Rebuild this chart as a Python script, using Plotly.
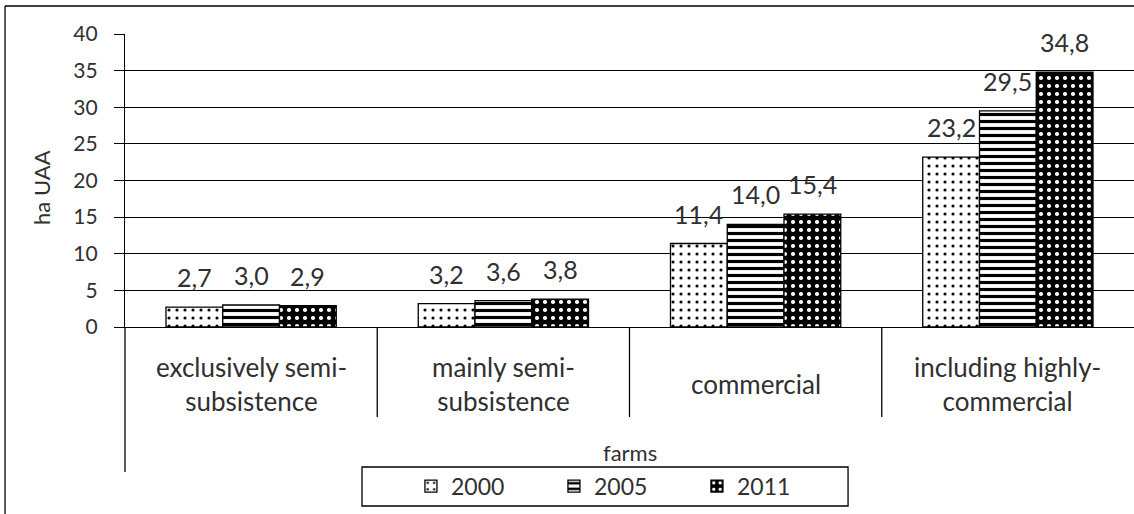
import plotly.graph_objects as go

categories = ["exclusively semi-<br>subsistence", "mainly semi-<br>subsistence",
              "commercial", "including highly-<br>commercial"]
years = ["2000", "2005", "2011"]
values_2000 = [2.7, 3.2, 11.4, 23.2]
values_2005 = [3.0, 3.6, 14.0, 29.5]
values_2011 = [2.9, 3.8, 15.4, 34.8]
y_ticks = [0, 5, 10, 15, 20, 25, 30, 35, 40]

series = [values_2000, values_2005, values_2011]
FONT = "Lato"
TXT = "#303030"

patterns = [
    dict(shape=".", size=8, solidity=0.12, fgcolor="black", bgcolor="white", fillmode="replace"),
    dict(shape="-", size=7, solidity=0.45, fgcolor="black", bgcolor="white", fillmode="replace"),
    dict(shape=".", size=8, solidity=0.22, fgcolor="white", bgcolor="black", fillmode="replace"),
]
base_colors = ["white", "white", "black"]

xidx = list(range(len(categories)))
BARGAP = 0.325

fig = go.Figure()
for k, (yr, vals) in enumerate(zip(years, series)):
    fig.add_trace(go.Bar(
        x=xidx, y=vals, name=yr,
        marker=dict(color=base_colors[k], pattern=patterns[k],
                    line=dict(color="black", width=1.3)),
    ))

# data labels
w = (1 - BARGAP) / 3
annotations = []
for k, vals in enumerate(series):
    for i, v in enumerate(vals):
        annotations.append(dict(
            x=i + (k - 1) * w, y=v, xref="x", yref="y",
            text=f"{v:.1f}".replace(".", ","), showarrow=False,
            yanchor="bottom", yshift=13,
            font=dict(family=FONT, size=25, color=TXT)))

# category labels
for i, c in enumerate(categories):
    annotations.append(dict(
        x=i, y=-0.193, xref="x", yref="paper", text=c, showarrow=False,
        yanchor="middle", font=dict(family=FONT, size=26, color=TXT)))

annotations.append(dict(x=0.5, y=-0.427, xref="paper", yref="paper", text="farms",
                        showarrow=False, yanchor="middle",
                        font=dict(family=FONT, size=22, color=TXT)))
annotations.append(dict(x=-0.0823, y=0.478, xref="paper", yref="paper", text="ha UAA",
                        showarrow=False, textangle=-90, xanchor="center", yanchor="middle",
                        font=dict(family=FONT, size=22, color=TXT)))

shapes = []
for b in [0.5, 1.5, 2.5]:
    shapes.append(dict(type="line", xref="x", yref="paper", x0=b, x1=b, y0=0, y1=-0.307,
                       line=dict(color="black", width=1.3)))
shapes.append(dict(type="line", xref="paper", yref="paper", x0=0, x1=0, y0=0, y1=-0.495,
                   line=dict(color="black", width=1.3)))
# legend box
shapes.append(dict(type="rect", xref="paper", yref="paper", x0=0.2349, x1=0.7166,
                   y0=-0.4778, y1=-0.6109, line=dict(color="black", width=1.3)))
# outer frame (top & left visible)
shapes.append(dict(type="line", xref="paper", yref="paper", x0=-0.1189, x1=1.2,
                   y0=1.0956, y1=1.0956, line=dict(color="black", width=1.3)))
shapes.append(dict(type="line", xref="paper", yref="paper", x0=-0.1189, x1=-0.1189,
                   y0=1.0956, y1=-1.0, line=dict(color="black", width=1.3)))

fig.update_layout(
    width=1134, height=514,
    margin=dict(l=125, r=0, t=34, b=187),
    paper_bgcolor="white", plot_bgcolor="white",
    barmode="group", bargap=BARGAP, bargroupgap=0,
    font=dict(family=FONT, color=TXT),
    showlegend=True,
    legend=dict(orientation="h", x=0.2834, xanchor="left", y=-0.543, yanchor="middle",
                entrywidth=98, entrywidthmode="pixels", itemwidth=30,
                font=dict(family=FONT, size=23, color=TXT), bgcolor="rgba(0,0,0,0)",
                traceorder="normal"),
    annotations=annotations,
    shapes=shapes,
    xaxis=dict(range=[-0.5, len(categories) - 0.5], showticklabels=False, ticks="",
               showline=True, linecolor="black", linewidth=1.3, showgrid=False,
               zeroline=False, fixedrange=True),
    yaxis=dict(range=[0, 40], tickvals=y_ticks, ticks="outside", ticklen=10,
               tickcolor="black", tickwidth=1.3, showline=True, linecolor="black",
               linewidth=1.3, showgrid=True, gridcolor="black", gridwidth=1.3,
               zeroline=False, tickfont=dict(family=FONT, size=21, color=TXT),
               ticklabelstandoff=12),
)

fig.write_html("out.html")
